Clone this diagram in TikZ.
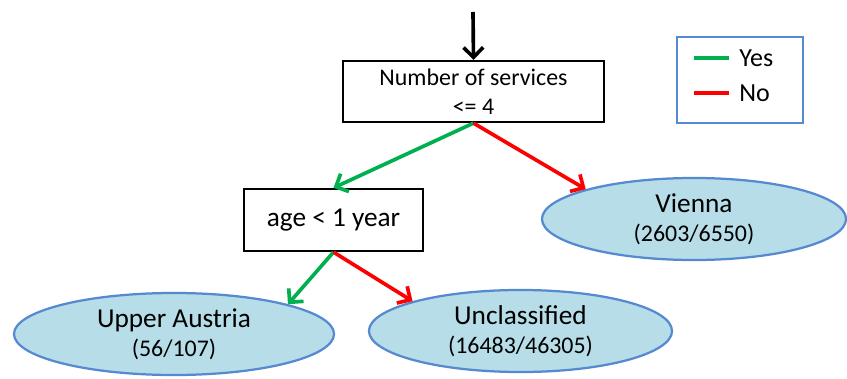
\documentclass[tikz,border=0pt]{standalone}
\usepackage{fontspec}
\setmainfont{Carlito}
\usetikzlibrary{shapes.geometric,arrows.meta}

\definecolor{yesgreen}{RGB}{0,176,80}
\definecolor{nored}{RGB}{255,0,0}
\definecolor{leaffill}{RGB}{183,221,232}
\definecolor{leafline}{RGB}{85,138,208}

\newcommand{\counts}[1]{\fontsize{17}{20.6}\selectfont #1}

\begin{document}
\begin{tikzpicture}[x=0.025cm,y=-0.025cm,
    test/.style={draw,line width=1.6pt,align=center,inner sep=0pt},
    leaf/.style={ellipse,draw=leafline,fill=leaffill,line width=1.6pt,
                 align=center,inner sep=0pt,minimum height=2.05cm,
                 font=\fontsize{19.4}{20.6}\selectfont},
    yes/.style={yesgreen,line width=2.6pt,-{Straight Barb[length=7pt,width=14pt]}},
    no/.style={nored,line width=2.6pt,-{Straight Barb[length=7pt,width=14pt]}}]
    \useasboundingbox (0,0) rectangle (847,379);

    % Tests
    \node[test,minimum width=6.525cm,minimum height=1.525cm,
          font=\fontsize{17}{20.6}\selectfont] (services) at (473.5,91.5)
        {Number of services\\<= 4};
    \node[test,minimum width=4.475cm,minimum height=1.55cm,
          font=\fontsize{19.4}{23}\selectfont] (age) at (333.5,220)
        {age < 1 year};

    % Leaves
    \node[leaf,minimum width=7.6cm] (vienna) at (694,219)
        {Vienna\\\counts{(2603/6550)}};
    \node[leaf,minimum width=8cm] (upper) at (174,334)
        {Upper Austria\\\counts{(56/107)}};
    \node[leaf,minimum width=7.575cm] (unclass) at (520.5,331)
        {Unclassified\\\counts{(16483/46305)}};

    % Edges
    \coordinate (start) at (473,12);
    \draw[line width=2.6pt,-{Straight Barb[length=7pt,width=14pt]}] (start) -- (services.north);
    \draw[yes] (services.south) -- (age.north);
    \draw[no] (services.south) -- (vienna.north west);
    \draw[yes] (age.south) -- (upper.north east);
    \draw[no] (age.south) -- (unclass.north west);

    % Legend
    \node[draw=leafline,line width=1.6pt,minimum width=3.15cm,minimum height=2.15cm] (legend) at (740,80) {};
    \draw[yesgreen,line width=2.6pt] (694,58) -- (729,58);
    \draw[nored,line width=2.6pt] (694,93) -- (729,93);
    \node[anchor=west,inner sep=0pt] (yeslabel) at (739,58) {\fontsize{18.5}{22}\selectfont Yes};
    \node[anchor=west,inner sep=0pt] (nolabel) at (739,93) {\fontsize{18.5}{22}\selectfont No};
\end{tikzpicture}
\end{document}
